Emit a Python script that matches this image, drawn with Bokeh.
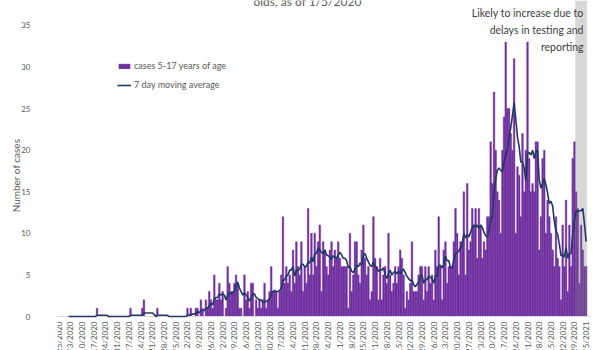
import numpy as np
import pandas as pd
from bokeh.plotting import figure
from bokeh.core.properties import value
from bokeh.models import (ColumnDataSource, Range1d, FixedTicker, Label, Span,
                          BoxAnnotation, Legend, LegendItem)
from bokeh.embed import file_html
from bokeh.resources import INLINE

# ---------------- data ----------------
start_date = "2020-02-25"
cases = [
    0, 0, 0, 0, 0, 0, 0,
    0, 0, 0, 0, 0, 0, 0,
    0, 0, 0, 0, 0, 0, 0,
    0, 0, 1, 0, 0, 0, 0,
    0, 0, 0, 0, 0, 0, 0,
    0, 0, 0, 0, 0, 0, 0,
    0, 1, 0, 0, 0, 0, 0,
    0, 1, 2, 0, 0, 0, 0,
    0, 0, 0, 1, 0, 0, 0,
    0, 0, 0, 0, 0, 0, 0,
    0, 0, 0, 0, 0, 0, 0,
    1, 0, 1, 0, 0, 1, 1,
    0, 2, 1, 0, 2, 1, 3,
    2, 1, 5, 2, 2, 4, 2,
    3, 0, 1, 6, 4, 3, 3,
    4, 5, 4, 1, 1, 0, 5,
    2, 3, 1, 4, 4, 0, 2,
    1, 2, 1, 2, 4, 1, 2,
    3, 6, 3, 3, 3, 1, 3,
    5, 12, 4, 6, 4, 5, 3,
    8, 4, 9, 6, 5, 9, 3,
    6, 4, 13, 5, 10, 5, 10,
    6, 9, 11, 3, 9, 8, 6,
    5, 8, 9, 6, 8, 7, 9,
    7, 6, 6, 6, 6, 1, 10,
    3, 5, 9, 9, 5, 4, 8,
    11, 7, 5, 6, 2, 3, 12,
    7, 6, 2, 7, 2, 5, 6,
    4, 10, 5, 3, 4, 6, 4,
    6, 8, 7, 5, 1, 3, 2,
    4, 9, 3, 3, 3, 5, 6,
    6, 2, 6, 3, 6, 4, 5,
    2, 8, 6, 12, 6, 2, 8,
    9, 4, 6, 6, 6, 9, 13,
    10, 5, 9, 9, 15, 5, 16,
    8, 9, 13, 11, 13, 7, 13,
    11, 7, 9, 8, 12, 12, 21,
    16, 27, 20, 15, 14, 10, 20,
    24, 33, 25, 25, 22, 20, 31,
    10, 18, 17, 12, 22, 15, 20,
    33, 19, 15, 16, 15, 21, 21,
    8, 12, 19, 20, 10, 14, 12,
    10, 8, 6, 12, 7, 6, 2,
    11, 6, 14, 3, 11, 6, 19,
    21, 15, 13, 4, 11, 8, 6,
    6,
]
delay_days = 7  # last days shaded: likely to increase due to reporting delays

tick_labels = [
    "2/25/2020", "3/3/2020", "3/10/2020", "3/17/2020", "3/24/2020", "3/31/2020",
    "4/7/2020", "4/14/2020", "4/21/2020", "4/28/2020", "5/5/2020", "5/12/2020",
    "5/19/2020", "5/26/2020", "6/2/2020", "6/9/2020", "6/16/2020", "6/23/2020",
    "6/30/2020", "7/7/2020", "7/14/2020", "7/21/2020", "7/28/2020", "8/4/2020",
    "8/11/2020", "8/18/2020", "8/25/2020", "9/1/2020", "9/8/2020", "9/15/2020",
    "9/22/2020", "9/29/2020", "10/6/2020", "10/13/2020", "10/20/2020",
    "10/27/2020", "11/3/2020", "11/10/2020", "11/17/2020", "11/24/2020",
    "12/1/2020", "12/8/2020", "12/15/2020", "12/22/2020", "12/29/2020",
    "1/5/2021",
]
y_ticks = [0, 5, 10, 15, 20, 25, 30, 35]

legend_labels = ["cases 5-17 years of age", "7 day moving average"]
note_lines = ["Likely to increase due to", "delays in testing and", "reporting"]
title_tail = "olds, as of 1/5/2020"

# ---------------- build ----------------
FONT = "Lato"
GREY = "#595959"
PURPLE = "#7030A0"
NAVY = "#1F3864"

W, H = 600, 350
Y_TOP = 38.0            # value at the top edge of the canvas
AXIS_PX = 316           # pixel row of the zero line
px_per_unit = AXIS_PX / Y_TOP
y_bottom = -(H - AXIS_PX) / px_per_unit

dates = pd.date_range(start_date, periods=len(cases), freq="D")
ma = pd.Series(cases, dtype=float).rolling(7).mean()
src = ColumnDataSource(dict(date=dates, cases=cases, ma=ma))

DAY_MS = 86400000.0
def ms(ts):
    return pd.Timestamp(ts).value / 1e6

x_start = ms(dates[0]) - 0.6 * DAY_MS
x_end = ms(dates[-1]) + 2.6 * DAY_MS

p = figure(width=W, height=H, x_axis_type="datetime", x_axis_location=None,
           x_range=Range1d(x_start, x_end), y_range=Range1d(y_bottom, Y_TOP),
           output_backend="svg", toolbar_location=None,
           min_border_left=57, min_border_right=10, min_border_top=0,
           min_border_bottom=0)
p.grid.visible = False
p.outline_line_color = None
p.background_fill_color = "white"

# shaded delay region
box = BoxAnnotation(left=ms(dates[-delay_days]) - 0.5 * DAY_MS,
                    right=ms(dates[-1]) + 0.5 * DAY_MS, bottom=0,
                    fill_color="#7f7f7f", fill_alpha=0.3, line_color=None)
p.add_layout(box)

r_bar = p.vbar(x="date", top="cases", width=DAY_MS, source=src,
               fill_color=PURPLE, line_color=PURPLE, line_width=0.4)
r_ma = p.line(x="date", y="ma", source=src, line_color=NAVY, line_width=1.6,
              level="overlay")

# x axis line
p.add_layout(Span(location=0, dimension="width", line_color="#d9d9d9", line_width=1))

# y axis
ya = p.yaxis[0]
ya.ticker = FixedTicker(ticks=y_ticks)
ya.bounds = (-2, Y_TOP)
ya.axis_line_color = None
ya.major_tick_line_color = None
ya.minor_tick_line_color = None
ya.major_label_text_font_size = "8px"
ya.major_label_text_color = GREY
ya.major_label_text_font = FONT
ya.major_label_standoff = 21
ya.axis_label = "Number of cases"
ya.axis_label_text_font_size = "10px"
ya.axis_label_text_font_style = "normal"
ya.axis_label_text_color = GREY
ya.axis_label_text_font = FONT
ya.axis_label_standoff = -4

# x tick labels (vertical, reading upward) below the zero line
tick_dates = pd.to_datetime(tick_labels, format="%m/%d/%Y")
lab_src = ColumnDataSource(dict(x=tick_dates, y=[-5 / px_per_unit] * len(tick_labels),
                                text=tick_labels))
p.text(x="x", y="y", text="text", source=lab_src, angle=np.pi / 2,
       text_align="right", text_baseline="middle", text_font_size="8px",
       text_color=GREY, text_font=value(FONT))

# legend
legend = Legend(items=[LegendItem(label=legend_labels[0], renderers=[r_bar]),
                       LegendItem(label=legend_labels[1], renderers=[r_ma])],
                location=(60, 260), background_fill_alpha=0, border_line_color=None,
                padding=0, margin=0, spacing=8, glyph_width=14, glyph_height=6,
                label_height=9, label_standoff=3, label_text_font_size="9px",
                label_text_color=GREY, label_text_font=FONT)
p.add_layout(legend)

# note on delay
for i, line in enumerate(note_lines):
    p.add_layout(Label(x=526, y=H - 12 - 17 * i, x_units="screen", y_units="screen",
                       text=line, text_align="right", text_baseline="middle",
                       text_font_size="10.5px", text_color="#404040", text_font=FONT))

# cut-off title
p.add_layout(Label(x=250, y=H - 1, x_units="screen", y_units="screen", text=title_tail,
                   text_align="center", text_baseline="alphabetic",
                   text_font_size="12px", text_color=GREY, text_font=FONT))

open("out.html", "w").write(file_html(p, INLINE))
